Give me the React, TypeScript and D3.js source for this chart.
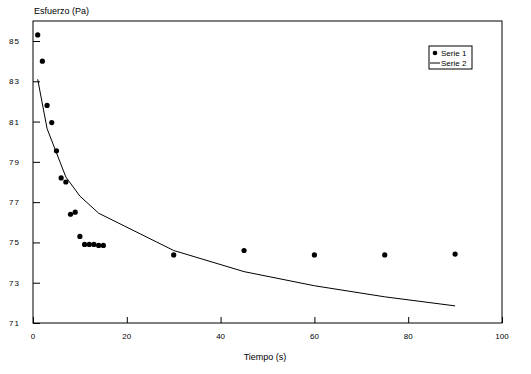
import * as d3 from "d3";
import { useEffect, useRef } from "react";

// Serie 1: measured points
const tiempo1 = [1, 2, 3, 4, 5, 6, 7, 8, 9, 10, 11, 12, 13, 14, 15, 30, 45, 60, 75, 90];
const esfuerzo1 = [
  85.3, 84.0, 81.8, 80.95, 79.55, 78.2, 78.0, 76.4, 76.5, 75.3, 74.9, 74.9, 74.9, 74.85, 74.85,
  74.38, 74.6, 74.38, 74.38, 74.42,
];

// Serie 2: fitted curve
const tiempo2 = [1, 3, 5, 7, 10, 14, 30, 45, 60, 75, 90];
const esfuerzo2 = [83.1, 80.65, 79.45, 78.25, 77.3, 76.45, 74.6, 73.55, 72.85, 72.3, 71.85];

const xTicks = [0, 20, 40, 60, 80, 100];
const yTicks = [71, 73, 75, 77, 79, 81, 83, 85];
const seriesNames = ["Serie 1", "Serie 2"];

const App = () => {
  const ref = useRef<SVGSVGElement>(null);

  useEffect(() => {
    const svg = d3.select(ref.current);
    svg.selectAll("*").remove();

    const left = 33,
      right = 502,
      top = 21,
      bottom = 323;
    const font = "Liberation Sans, Arial, sans-serif";

    const x = d3.scaleLinear().domain([0, 100]).range([left, right]);
    const y = d3.scaleLinear().domain([71, 85]).range([bottom, top + 20]);

    // frame
    svg
      .append("rect")
      .attr("x", left)
      .attr("y", top)
      .attr("width", right - left)
      .attr("height", bottom - top)
      .attr("fill", "none")
      .attr("stroke", "#000")
      .attr("stroke-width", 1);

    // y axis (ticks pointing inward)
    const yAxis = svg
      .append("g")
      .attr("transform", `translate(${left},0)`)
      .call(d3.axisRight(y).tickValues(yTicks).tickSize(7).tickFormat(() => ""));
    yAxis.select(".domain").remove();
    yAxis.selectAll("line").attr("stroke", "#000");

    svg
      .append("g")
      .selectAll("text")
      .data(yTicks)
      .join("text")
      .attr("x", 20)
      .attr("y", (d) => y(d) + 3)
      .attr("text-anchor", "end")
      .attr("font-family", font)
      .attr("font-size", 8)
      .attr("letter-spacing", 1)
      .text((d) => d);

    // x axis (ticks pointing up)
    const xAxis = svg
      .append("g")
      .attr("transform", `translate(0,${bottom})`)
      .call(d3.axisTop(x).tickValues(xTicks).tickSize(6).tickFormat(() => ""));
    xAxis.select(".domain").remove();
    xAxis.selectAll("line").attr("stroke", "#000");

    svg
      .append("g")
      .selectAll("text")
      .data(xTicks)
      .join("text")
      .attr("x", (d) => x(d))
      .attr("y", 339)
      .attr("text-anchor", "middle")
      .attr("font-family", font)
      .attr("font-size", 8)
      .text((d) => d);

    // axis titles
    svg
      .append("text")
      .attr("x", 34)
      .attr("y", 14)
      .attr("font-family", font)
      .attr("font-size", 9)
      .text("Esfuerzo (Pa)");
    svg
      .append("text")
      .attr("x", 265)
      .attr("y", 360)
      .attr("text-anchor", "middle")
      .attr("font-family", font)
      .attr("font-size", 9)
      .text("Tiempo (s)");

    // Serie 2 line
    const line = d3
      .line<number>()
      .x((d) => x(d))
      .y((_, i) => y(esfuerzo2[i]));
    svg
      .append("path")
      .datum(tiempo2)
      .attr("d", line)
      .attr("fill", "none")
      .attr("stroke", "#000")
      .attr("stroke-width", 1);

    // Serie 1 points
    svg
      .append("g")
      .selectAll("circle")
      .data(tiempo1)
      .join("circle")
      .attr("cx", (d) => x(d))
      .attr("cy", (_, i) => y(esfuerzo1[i]))
      .attr("r", 2.6)
      .attr("fill", "#000");

    // legend
    const lg = svg.append("g").attr("transform", "translate(429,46)");
    lg.append("rect")
      .attr("width", 43)
      .attr("height", 23)
      .attr("fill", "#fff")
      .attr("stroke", "#000");
    lg.append("circle").attr("cx", 6).attr("cy", 7).attr("r", 2.3).attr("fill", "#000");
    lg.append("line")
      .attr("x1", 1)
      .attr("x2", 11)
      .attr("y1", 17)
      .attr("y2", 17)
      .attr("stroke", "#000");
    lg.selectAll("text")
      .data(seriesNames)
      .join("text")
      .attr("x", 12)
      .attr("y", (_, i) => 10 + i * 10)
      .attr("font-family", font)
      .attr("font-size", 8)
      .text((d) => d);
  }, []);

  return (
    <svg
      ref={ref}
      width={531}
      height={374}
      style={{ position: "absolute", left: 0, top: 0, background: "#fff" }}
    />
  );
};

export default App;
